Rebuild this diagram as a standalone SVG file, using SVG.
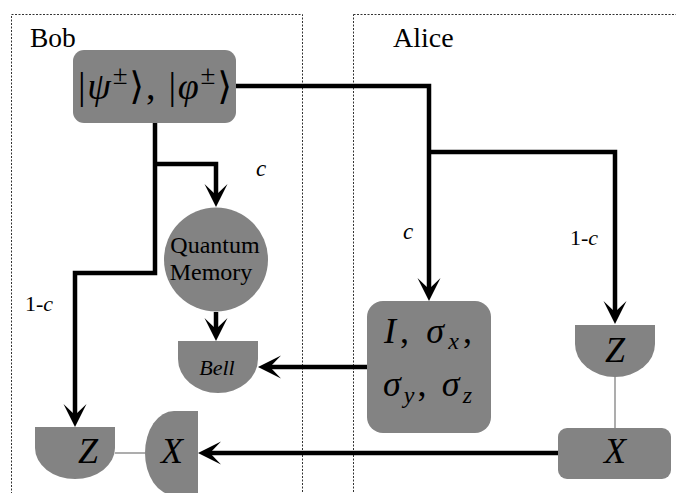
<svg xmlns="http://www.w3.org/2000/svg" width="676" height="493" viewBox="0 0 676 493">
<style>
.frame{fill:none;stroke:#333;stroke-width:1;stroke-dasharray:2 1.5}
.node{fill:#838383}
.wire{fill:none;stroke:#000;stroke-width:4.5;stroke-linejoin:miter}
.thin{fill:none;stroke:#999;stroke-width:1.6}
text{font-family:'Liberation Serif','Times New Roman','DejaVu Serif',serif;fill:#000}
.i{font-style:italic}
</style>
<defs>
<marker id="ah" viewBox="0 -12 23 24" refX="11" refY="0" markerWidth="23" markerHeight="24" markerUnits="userSpaceOnUse" orient="auto">
<path d="M23,0 L0,-11.5 L11,0 L0,11.5 Z" fill="#000"/>
</marker>
</defs>
<rect width="676" height="493" fill="#fff"/>
<g id="frames">
<rect class="frame" x="11.5" y="14.5" width="291" height="500"/>
<rect class="frame" x="353.5" y="14.5" width="360" height="500"/>
<text x="30" y="47" font-size="27.5">Bob</text>
<text x="393" y="47" font-size="28">Alice</text>
</g>
<g id="connectors">
<polyline class="wire" points="236,86 429,86 429,289" marker-end="url(#ah)"/>
<polyline class="wire" points="429,152 615,152 615,312" marker-end="url(#ah)"/>
<polyline class="wire" points="155,123 155,273 75,273 75,415" marker-end="url(#ah)"/>
<polyline class="wire" points="155,164 216,164 216,195" marker-end="url(#ah)"/>
<line class="wire" x1="216" y1="312" x2="216" y2="329" marker-end="url(#ah)"/>
<line class="wire" x1="367" y1="367" x2="270" y2="367" marker-end="url(#ah)"/>
<line class="wire" x1="558" y1="453" x2="210" y2="453" marker-end="url(#ah)"/>
<line class="thin" x1="115" y1="453" x2="145" y2="453"/>
<line class="thin" x1="615" y1="377" x2="615" y2="428"/>
<text class="i" x="256" y="176" font-size="23">c</text>
<text class="i" x="403" y="239" font-size="23">c</text>
<text x="570" y="245" font-size="22">1-<tspan class="i">c</tspan></text>
<text x="25" y="311" font-size="22">1-<tspan class="i">c</tspan></text>
</g>
<g id="bellstates">
<rect class="node" x="73" y="50" width="163" height="73" rx="11"/>
<text x="78" y="99" font-size="38" textLength="154">|<tspan class="i">ψ</tspan><tspan font-size="27" dy="-15">±</tspan><tspan dy="15">⟩, |</tspan><tspan class="i">φ</tspan><tspan font-size="27" dy="-15">±</tspan><tspan dy="15">⟩</tspan></text>
</g>
<g id="memory">
<circle class="node" cx="216" cy="259.5" r="52"/>
<text x="215" y="253" text-anchor="middle" font-size="24">Quantum</text>
<text x="211" y="280" text-anchor="middle" font-size="24">Memory</text>
</g>
<g id="bell">
<path class="node" d="M178,341 H258 V359 A40,34 0 0 1 178,359 Z"/>
<text class="i" x="217" y="375" text-anchor="middle" font-size="22">Bell</text>
</g>
<g id="pauli">
<rect class="node" x="367" y="301" width="124" height="132" rx="16"/>
<text x="384" y="343" font-size="36" textLength="88"><tspan class="i">I</tspan>, <tspan class="i">σ</tspan><tspan class="i" font-size="24" dy="6">x</tspan><tspan dy="-6">,</tspan></text>
<text x="383" y="396" font-size="36" textLength="89"><tspan class="i">σ</tspan><tspan class="i" font-size="24" dy="7">y</tspan><tspan dy="-7">, </tspan><tspan class="i">σ</tspan><tspan class="i" font-size="24" dy="7">z</tspan></text>
</g>
<g id="aliceZ">
<path class="node" d="M575,325 H655 V344 A40,33 0 0 1 575,344 Z"/>
<text class="i" x="615" y="362" text-anchor="middle" font-size="36">Z</text>
</g>
<g id="aliceX">
<rect class="node" x="558" y="428" width="113" height="51" rx="9"/>
<text class="i" x="615" y="463" text-anchor="middle" font-size="36">X</text>
</g>
<g id="bobZ">
<path class="node" d="M35,427 H115 V448 A40,31 0 0 1 35,448 Z"/>
<text class="i" x="88" y="463" text-anchor="middle" font-size="36">Z</text>
</g>
<g id="bobX">
<path class="node" d="M198,411 V495 H174 A29,42 0 0 1 174,411 Z"/>
<text class="i" x="172" y="463" text-anchor="middle" font-size="36">X</text>
</g>
</svg>
